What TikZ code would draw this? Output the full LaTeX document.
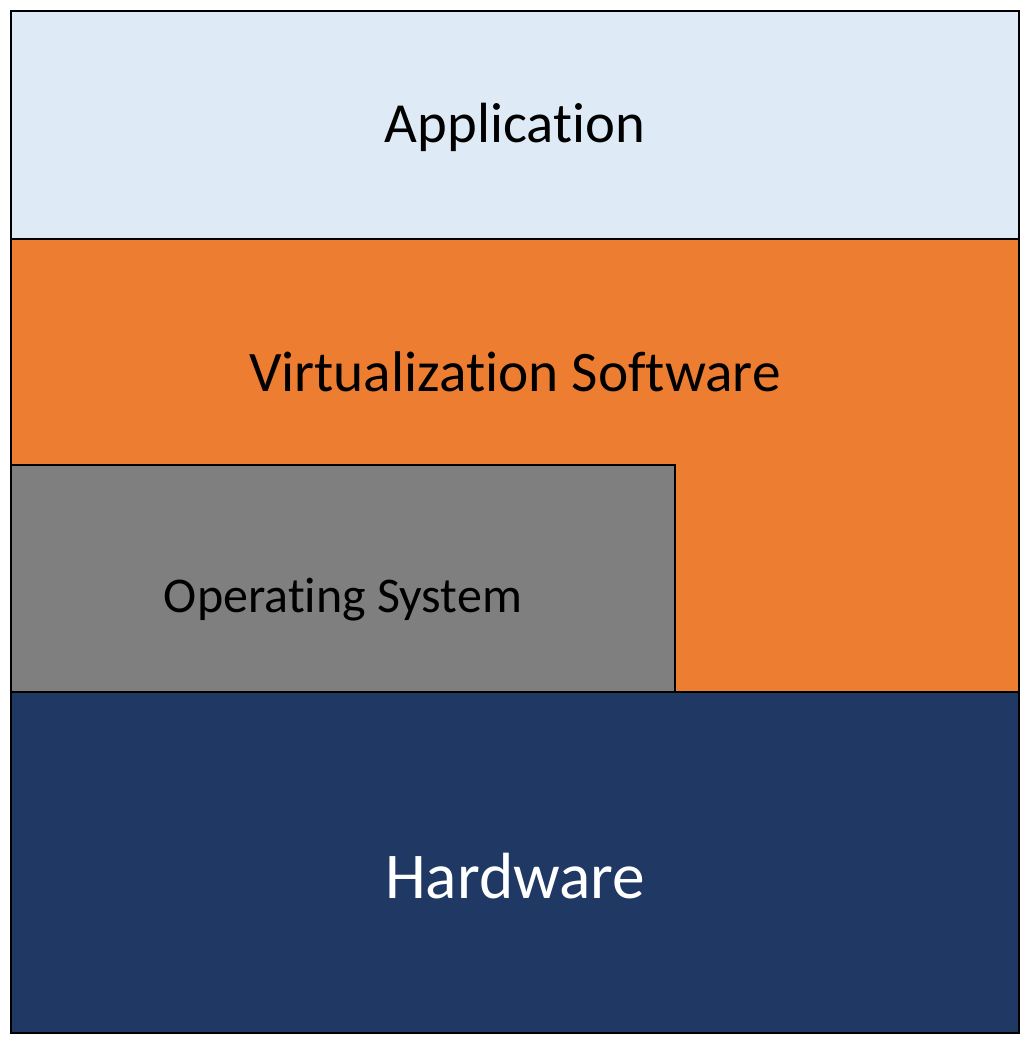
\documentclass[tikz,border=0pt]{standalone}
\usepackage{fontspec}
\setmainfont{Carlito}[Ligatures=NoCommon]
\definecolor{appblue}{HTML}{DEEBF7}
\definecolor{virtorange}{HTML}{ED7D31}
\definecolor{osgray}{HTML}{7F7F7F}
\definecolor{hwnavy}{HTML}{203864}
\newcommand{\nolig}{\kern0pt}
\tikzset{
  layer/.style={draw=black,line width=1.1pt},
  lbl/.style={anchor=base,inner sep=0pt}
}
\begin{document}
\begin{tikzpicture}[x=0.75pt,y=-0.75pt]
\useasboundingbox (0,0) rectangle (1031,1046);
\fill[white] (0,0) rectangle (1031,1046);
% layers
\draw[layer,fill=appblue] (11,11) rectangle (1019,239);
\draw[layer,fill=virtorange] (11,239) rectangle (1019,692);
\draw[layer,fill=osgray] (11,465) rectangle (675,692);
\draw[layer,fill=hwnavy] (11,692) rectangle (1019,1033);
% labels
\node[lbl,font=\fontsize{42.5}{50}\selectfont] (app) at (515,142) {Applicat\nolig ion};
\node[lbl,font=\fontsize{43}{52}\selectfont] (virt) at (515,391) {Virtualizat\nolig ion Software};
\node[lbl,font=\fontsize{37.5}{45}\selectfont] (os) at (343,612) {Operat\nolig ing System};
\node[lbl,font=\fontsize{49}{58}\selectfont,text=white] (hw) at (515,898) {Hardware};
\end{tikzpicture}
\end{document}
